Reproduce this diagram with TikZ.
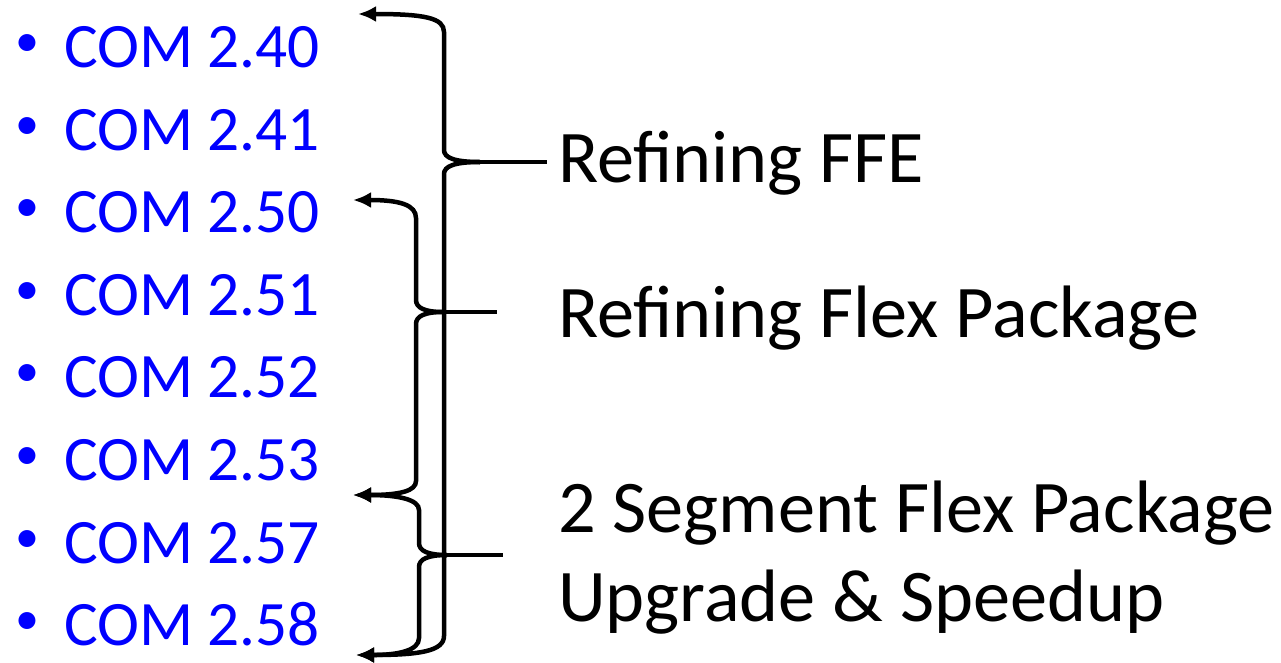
\documentclass[tikz,border=0pt]{standalone}
\usepackage{fontspec}
\setmainfont{Carlito}
\usepackage{tikz}
\usetikzlibrary{arrows.meta,positioning,calc}

\tikzset{
    bul/.style={blue, inner sep=0pt, font=\fontsize{48}{58}\selectfont},
    item/.style={blue, inner sep=0pt, anchor=base west, font=\fontsize{63.3}{76}\selectfont},
    lab/.style={inner sep=0pt, anchor=base west, align=left, font=\fontsize{74.3}{89}\selectfont},
    brace/.style={line width=4.5pt, -{Latex[length=18pt,width=16pt]}},
    tipline/.style={line width=4.5pt}
}

\begin{document}
\begin{tikzpicture}[x=1pt, y=-1pt]
    \useasboundingbox (0,0) rectangle (1281,662);

    % list of versions
    \node[bul] (b1) at (27,46) {\textbullet};
    \node[bul] (b2) at (27,129) {\textbullet};
    \node[bul] (b3) at (27,211) {\textbullet};
    \node[bul] (b4) at (27,294) {\textbullet};
    \node[bul] (b5) at (27,376) {\textbullet};
    \node[bul] (b6) at (27,459) {\textbullet};
    \node[bul] (b7) at (27,542) {\textbullet};
    \node[bul] (b8) at (27,624) {\textbullet};

    \node[item] (c40) at (64,67) {COM 2.40};
    \node[item] (c41) at (64,150) {COM 2.41};
    \node[item] (c50) at (64,232) {COM 2.50};
    \node[item] (c51) at (64,315) {COM 2.51};
    \node[item] (c52) at (64,397) {COM 2.52};
    \node[item] (c53) at (64,480) {COM 2.53};
    \node[item] (c57) at (64,563) {COM 2.57};
    \node[item] (c58) at (64,645) {COM 2.58};

    % labels
    \node[lab] (ffe) at (558,182) {Refining FFE};
    \node[lab] (flex) at (558,337) {Refining Flex Package};
    \node[lab] (seg) at (558,621) {2 Segment Flex Package\\Upgrade \& Speedup};

    % brace ends
    \coordinate (top40) at (358,14);
    \coordinate (top50) at (353,200);
    \coordinate (mid53) at (353,495);
    \coordinate (bot58) at (356,655);
    \coordinate (ffetip) at (480,162);
    \coordinate (flextip) at (443,312);
    \coordinate (segtip) at (447,555);

    % Refining FFE
    \draw[tipline] (ffetip) -- (ffetip -| 547,0);
    \draw[brace] (ffetip) .. controls (455,162) and (444,158) .. (444,150)
        -- (444,32) .. controls (444,18) and (425,14) .. (top40);
    \draw[brace] (ffetip) .. controls (455,162) and (444,166) .. (444,174)
        -- (444,636) .. controls (444,651) and (420,655) .. (bot58);

    % Refining Flex Package
    \draw[tipline] (flextip) -- (flextip -| 497,0);
    \draw[brace] (flextip) .. controls (425,312) and (416,308) .. (416,300)
        -- (416,218) .. controls (416,205) and (400,200) .. (top50);
    \draw[brace] (flextip) .. controls (425,312) and (416,316) .. (416,324)
        -- (416,481) .. controls (416,491) and (400,495) .. (mid53);

    % 2 Segment Flex Package
    \draw[tipline] (segtip) -- (segtip -| 503,0);
    \draw[brace] (segtip) .. controls (428,555) and (419,551) .. (419,543)
        -- (419,510) .. controls (419,500) and (400,495) .. (mid53);
    \draw[brace] (segtip) .. controls (428,555) and (419,559) .. (419,567)
        -- (419,638) .. controls (419,650) and (400,655) .. (bot58);
\end{tikzpicture}
\end{document}
